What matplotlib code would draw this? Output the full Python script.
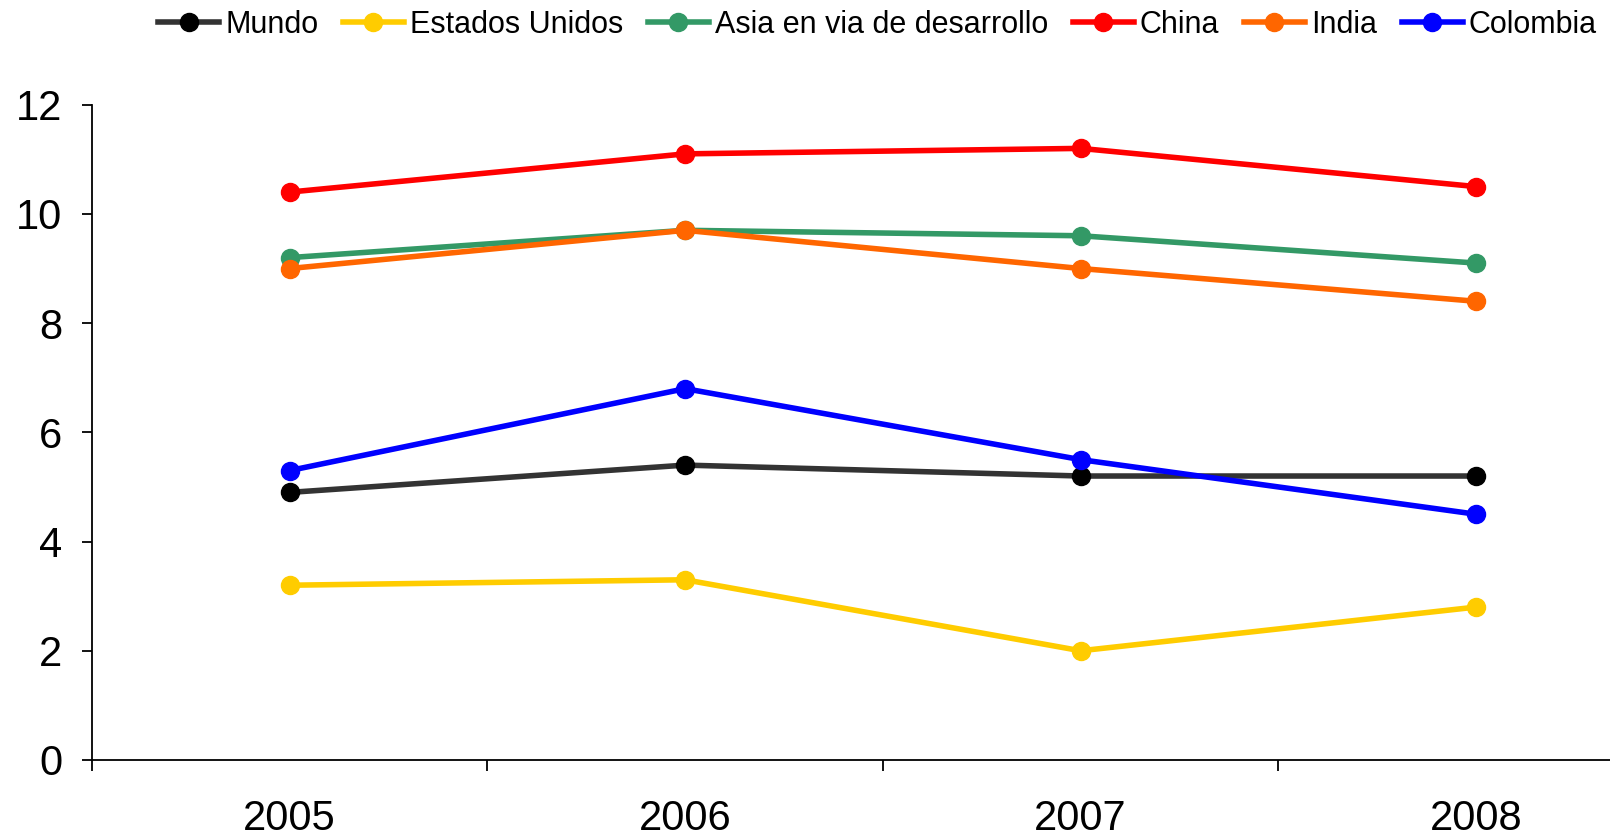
import matplotlib.pyplot as plt
import numpy as np

plt.rcParams['font.family'] = ['Liberation Sans', 'DejaVu Sans']

years = ['2005', '2006', '2007', '2008']
mundo = [4.9, 5.4, 5.2, 5.2]
eeuu = [3.2, 3.3, 2.0, 2.8]
asia = [9.2, 9.7, 9.6, 9.1]
china = [10.4, 11.1, 11.2, 10.5]
india = [9.0, 9.7, 9.0, 8.4]
colombia = [5.3, 6.8, 5.5, 4.5]

series = [
    ('Mundo', mundo, '#333333', '#000000'),
    ('Estados Unidos', eeuu, '#FFCC00', '#FFCC00'),
    ('Asia en via de desarrollo', asia, '#339966', '#339966'),
    ('China', china, '#FF0000', '#FF0000'),
    ('India', india, '#FF6600', '#FF6600'),
    ('Colombia', colombia, '#0000FF', '#0000FF'),
]

fig = plt.figure(figsize=(16.1, 8.39), dpi=100)
ax = fig.add_axes([0.0571, 0.0942, 0.9826, 0.781])

x = np.arange(len(years))
for name, vals, lc, mc in series:
    ax.plot(x, vals, color=lc, lw=4, marker='o', markersize=13,
            markerfacecolor=mc, markeredgecolor=mc, label=name, clip_on=False)

ax.set_xlim(-0.5, len(years) - 0.5)
ax.set_ylim(0, 12)
ax.set_yticks(range(0, 13, 2))
ax.set_xticks(x)
ax.set_xticklabels(years)
ax.set_xticks(np.arange(-0.5, len(years), 1), minor=True)
ax.tick_params(axis='x', which='major', length=0, pad=28, labelsize=30)
ax.tick_params(axis='x', which='minor', length=8, width=1.3, direction='out')
ax.tick_params(axis='y', length=7.5, width=1.3, pad=14, labelsize=30)

for s in ['top', 'right']:
    ax.spines[s].set_visible(False)
for s in ['left', 'bottom']:
    ax.spines[s].set_linewidth(1.3)

fig.legend(loc='center', bbox_to_anchor=(0.545, 1 - 25 / 839), ncol=6,
           frameon=False, fontsize=22, handlelength=2.0, handletextpad=0.2,
           columnspacing=0.8)

fig.savefig('out.png', dpi=100)
